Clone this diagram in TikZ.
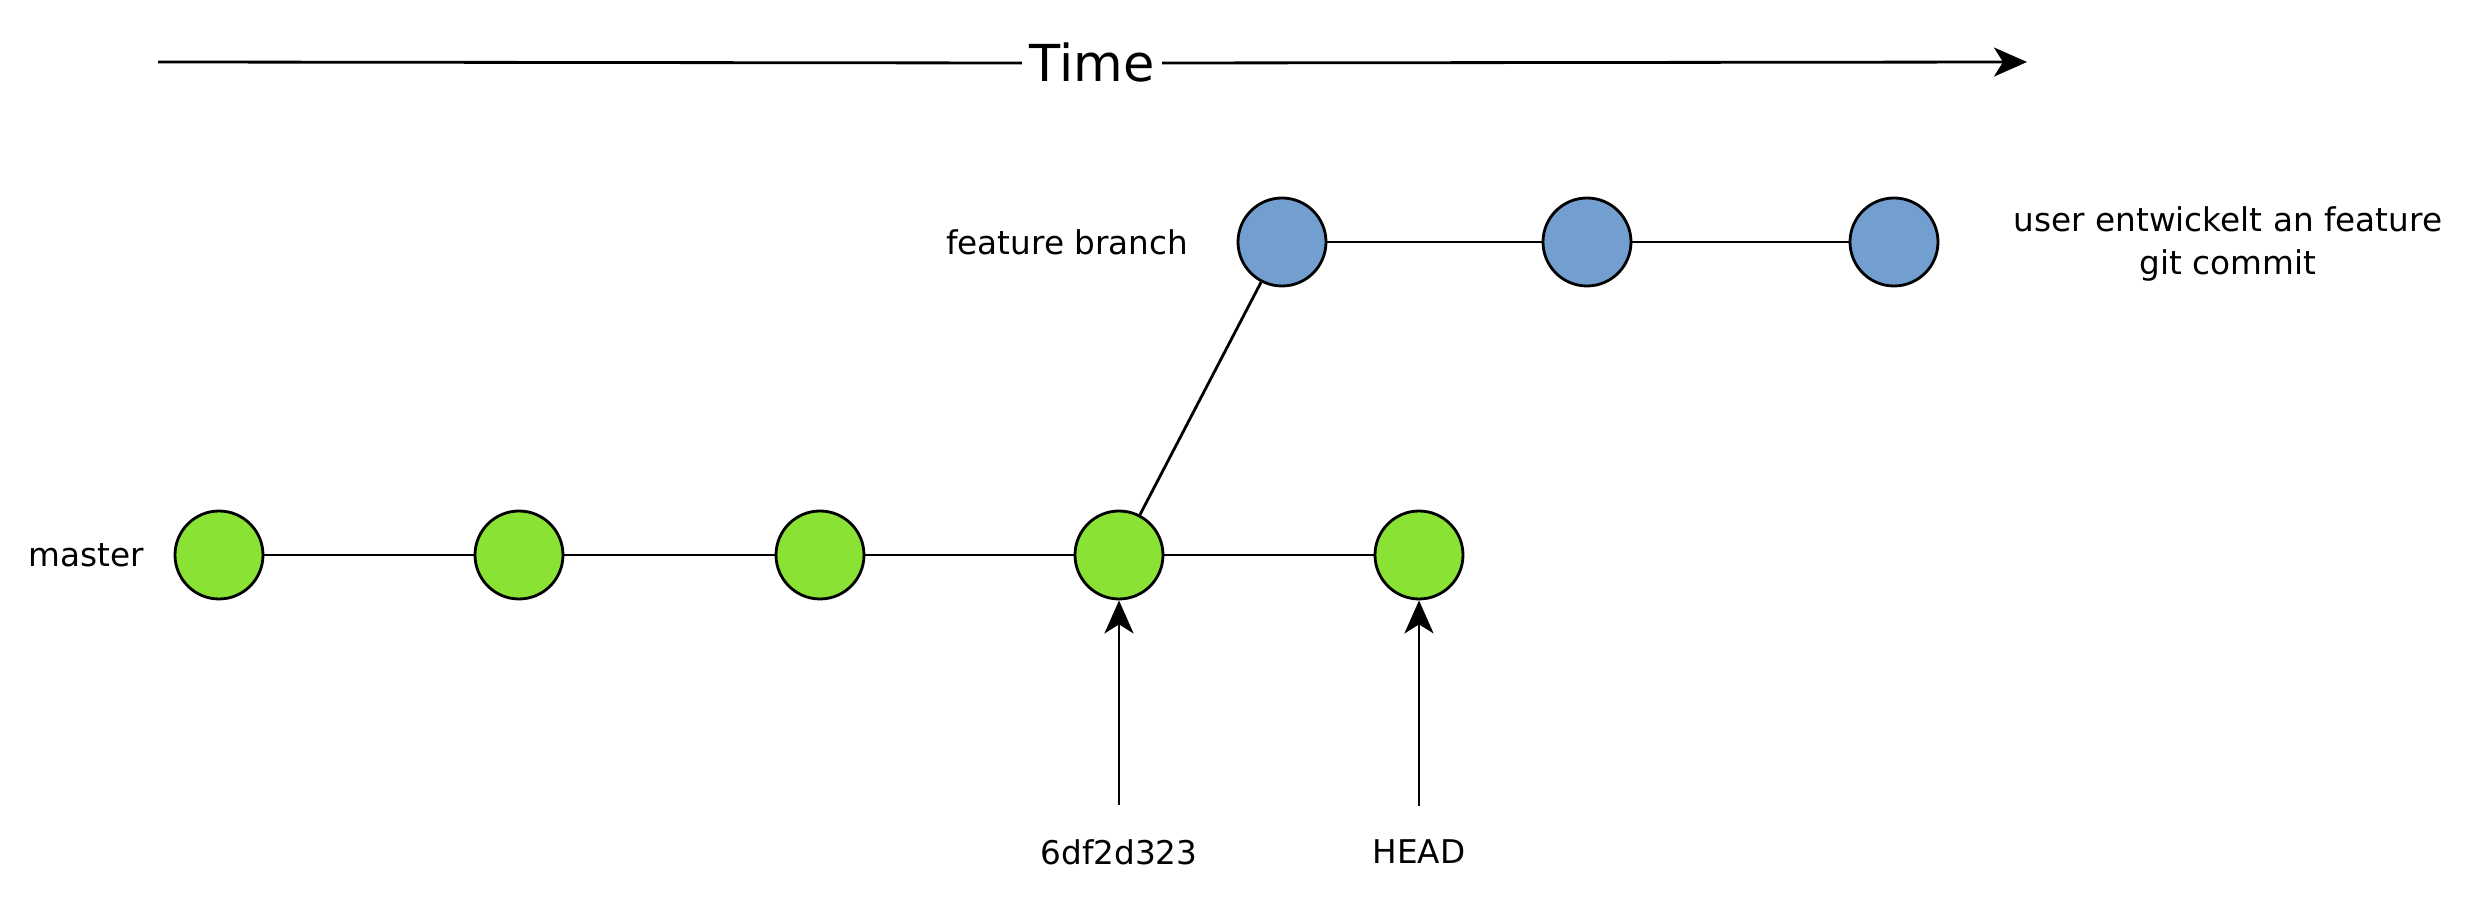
\documentclass[tikz,border=0pt]{standalone}
\usepackage{fontspec}
\setmainfont{DejaVu Sans}
\usepackage{xcolor}
\usetikzlibrary{arrows.meta,positioning}
\definecolor{mgreen}{HTML}{8AE234}
\definecolor{fblue}{HTML}{729FCF}
\tikzset{
  Mnode/.style={draw, circle, line width=0.8pt, fill=mgreen,
                minimum size=0.88cm, inner sep=0pt},
  Fnode/.style={draw, circle, line width=0.8pt, fill=fblue,
                minimum size=0.88cm, inner sep=0pt},
  Lbl/.style={font=\fontsize{9.3}{12.4}\selectfont, align=center},
  Link/.style={line width=0.8pt},
  Parr/.style={-{Stealth[length=3.3mm, width=2.9mm, inset=0.9mm]}, line width=0.8pt}
}
\begin{document}
\begin{tikzpicture}
  \useasboundingbox (0,0) rectangle (24.81,9.12);

  % time axis
  \coordinate (tstart) at (1.58,8.50);
  \coordinate (tend) at (20.27,8.50);
  \node[font=\fontsize{14.5}{17}\selectfont, inner sep=0.07cm] (time) at (10.92,8.49) {Time};
  \draw[Link] (tstart) -- (time.west);
  \draw[Parr] (time.east) -- (tend);

  % master
  \node[Mnode] (m1) at (2.19,3.57) {};
  \node[Mnode] (m2) at (5.19,3.57) {};
  \node[Mnode] (m3) at (8.20,3.57) {};
  \node[Mnode] (m4) at (11.19,3.57) {};
  \node[Mnode] (m5) at (14.19,3.57) {};
  \node[Lbl, left=0.17cm of m1] (master) {master};

  % feature branch
  \node[Fnode] (f1) at (12.82,6.70) {};
  \node[Fnode] (f2) at (15.87,6.70) {};
  \node[Fnode] (f3) at (18.94,6.70) {};
  \node[Lbl, left=0.36cm of f1] (fb) {feature branch};
  \node[Lbl] (dev) at (22.28,6.68) {user entwickelt an feature\\git commit};

  \draw[Link] (m1)--(m2);
  \draw[Link] (m2)--(m3);
  \draw[Link] (m3)--(m4);
  \draw[Link] (m4)--(m5);
  \draw[Link] (m4)--(f1);
  \draw[Link] (f1)--(f2);
  \draw[Link] (f2)--(f3);

  % pointers
  \node[Lbl] (sha) at (11.19,0.60) {6df2d323};
  \node[Lbl] (head) at (14.19,0.60) {HEAD};
  \draw[Parr, shorten <=0.22cm] (sha.north) -- (m4.south);
  \draw[Parr, shorten <=0.22cm] (head.north) -- (m5.south);
\end{tikzpicture}
\end{document}
